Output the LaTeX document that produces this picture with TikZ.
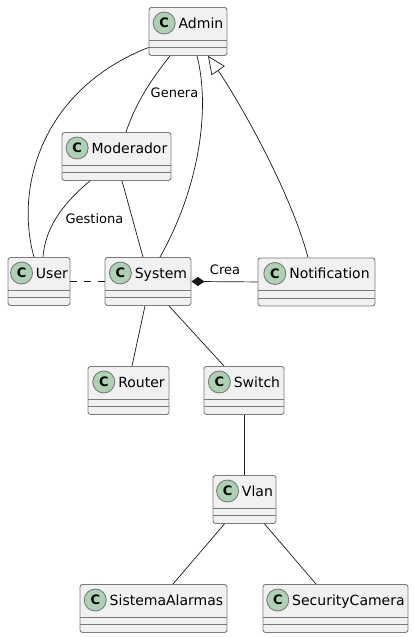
\documentclass[tikz,border=0pt]{standalone}
\usepackage{fontspec}
\setmainfont{DejaVu Sans}
\usetikzlibrary{arrows.meta}
\definecolor{boxfill}{HTML}{F1F1F1}
\definecolor{iconfill}{HTML}{ADD1B2}
\definecolor{umlline}{HTML}{181818}
\definecolor{boxline}{HTML}{7A7A7A}
\newcommand\cicon{\tikz[baseline=-5pt]\node[circle,draw=boxline,fill=iconfill,line width=.9pt,inner sep=0,minimum size=22pt,font=\bfseries\fontsize{13}{13}\selectfont]{C};\hspace{3pt}}
\begin{document}
\begin{tikzpicture}[x=1pt,y=-1pt,
    umlclass/.style={draw=boxline,fill=boxfill,line width=.9pt,rounded corners=2.5pt,
      anchor=north,minimum height=48pt,inner sep=0,
      path picture={\draw[boxline,line width=.9pt]
        ([yshift=-32.5pt]path picture bounding box.north west)--([yshift=-32.5pt]path picture bounding box.north east)
        ([yshift=-40pt]path picture bounding box.north west)--([yshift=-40pt]path picture bounding box.north east);}},
    classname/.style={anchor=center,yshift=-16pt,inner sep=0,font=\fontsize{14}{16}\selectfont},
    rel/.style={draw=umlline,line width=.7pt},
    edgelabel/.style={inner sep=0,font=\fontsize{13}{15}\selectfont}]
  \useasboundingbox(0,0)rectangle(414,638);
  \foreach \n/\x/\y/\w/\t in {admin/188/7/78/Admin,moderador/116.5/132/109/Moderador,
      user/39/257/62/User,system/148/257/86/System,notification/316.5/257.5/117/Notification,
      router/128.5/366/81/Router,switch/244/366/80/Switch,vlan/244.5/475/63/Vlan,
      alarmas/153.5/584/147/SistemaAlarmas,camera/335.5/584/145/SecurityCamera}{
    \node[umlclass,minimum width=\w,label={[classname]north:{\cicon\t}}](\n)at(\x,\y){};
  }
  % relations from Admin
  \draw[rel]([yshift=-16pt]admin.west)..controls +(-109,43) and +(-19,-67)..([xshift=-5pt]user.north);
  \draw[rel]([xshift=-18pt]admin.south)..controls +(-20,25) and +(9,-27)..([xshift=9.5pt]moderador.north);
  \draw[rel]([xshift=9pt]admin.south)..controls +(14,55) and +(38,-67)..([xshift=12pt]system.north);
  \draw[rel,-{Triangle[open,length=18pt,width=16pt,fill=white]}]([xshift=-8.5pt]notification.north)
    ..controls +(-18,-68) and +(29,42)..([xshift=20pt]admin.south);
  \node[edgelabel](genera)at(174.5,93){Genera};
  % Moderador
  \draw[rel]([xshift=-26.5pt]moderador.south)..controls +(-30,25) and +(2,-27)..([xshift=4pt]user.north);
  \draw[rel]([xshift=5.5pt]moderador.south)--([xshift=-5pt]system.north);
  \node[edgelabel](gestiona)at(94.5,219){Gestiona};
  % System
  \draw[rel,dash pattern=on 7pt off 7pt](user.east)--(system.west);
  \draw[rel,-{Diamond[length=13pt,width=9pt]}](notification.west)--(system.east);
  \node[edgelabel](crea)at(225,269.5){Crea};
  \draw[rel]([xshift=-3pt]system.south)--([xshift=3.5pt]router.north);
  \draw[rel]([xshift=21pt]system.south)--([xshift=-20pt]switch.north);
  % network
  \draw[rel](switch.south)--(switch.south|-vlan.north);
  \draw[rel]([xshift=-20pt]vlan.south)--([xshift=19.5pt]alarmas.north);
  \draw[rel]([xshift=20pt]vlan.south)--([xshift=-19.5pt]camera.north);
\end{tikzpicture}
\end{document}
